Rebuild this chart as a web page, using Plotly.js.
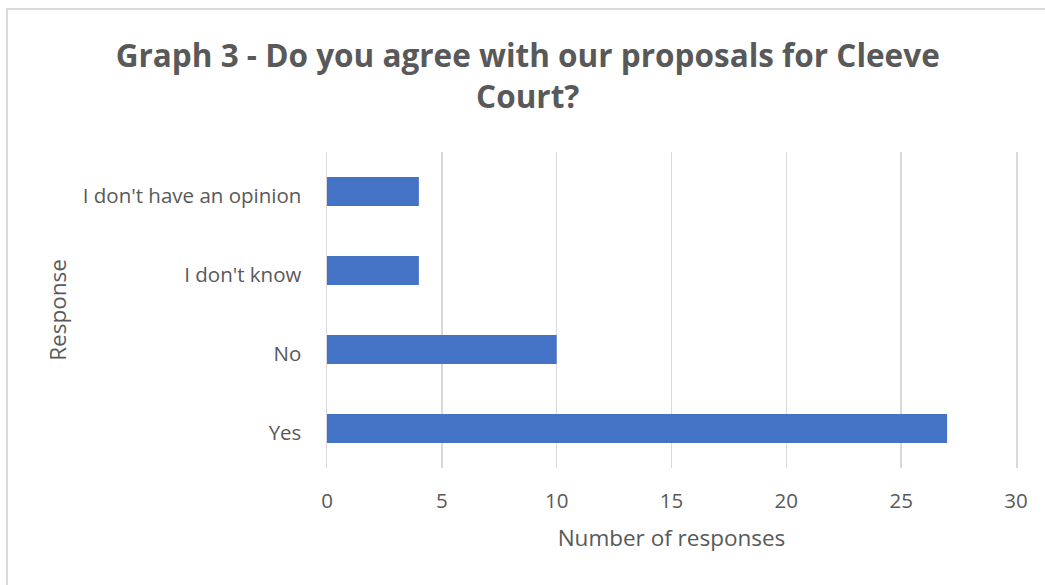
<!DOCTYPE html>
<html><head><meta charset="utf-8">
<script src="https://cdn.plot.ly/plotly-3.0.1.min.js"></script>
<style>
html,body{margin:0;padding:0;background:#fff;overflow:hidden}
#chart{position:absolute;left:0;top:0;width:1045px;height:585px}
#frame{position:absolute;left:6px;top:8px;width:1100px;height:700px;border:2px solid #d9d9d9;pointer-events:none;box-sizing:border-box}
</style></head>
<body>
<div id="chart"></div>
<div id="frame"></div>
<script>
const categories = ["Yes", "No", "I don't know", "I don't have an opinion"];
const responses = [27, 10, 4, 4];
const xTicks = [0, 5, 10, 15, 20, 25, 30];

const font = "'Open Sans', sans-serif";
const trace = {
  type: 'bar', orientation: 'h',
  x: responses, y: categories,
  marker: {color: '#4472C4'},
  width: 0.37,
  hoverinfo: 'x+y'
};
const layout = {
  width: 1045, height: 585,
  margin: {l: 327, r: 29, t: 152, b: 117},
  paper_bgcolor: '#fff', plot_bgcolor: '#fff',
  font: {family: font, color: '#595959'},
  title: {
    text: 'Graph 3 - Do you agree with our proposals for Cleeve<br>Court?',
    font: {family: font, size: 31.5, color: '#595959', weight: 'bold'},
    x: 0.505, xanchor: 'center', y: 0.886, yanchor: 'middle'
  },
  xaxis: {
    range: [0, 30], tickvals: xTicks, ticktext: xTicks.map(String),
    showgrid: true, gridcolor: '#d9d9d9', gridwidth: 1.5,
    zeroline: false, showline: false,
    tickfont: {size: 20.5, color: '#595959'},
    ticks: '', ticklabelstandoff: 18,
    title: {text: 'Number of responses', font: {size: 22.5, color: '#595959'}, standoff: 17},
    fixedrange: true
  },
  yaxis: {
    type: 'category', categoryorder: 'array', categoryarray: categories,
    showgrid: false, zeroline: false,
    showline: true, mirror: true, linecolor: '#d9d9d9', linewidth: 1.5,
    tickfont: {size: 20.5, color: '#595959'},
    ticks: '', ticklabelstandoff: 20, ticklabelshift: 4,
    title: {text: 'Response', font: {size: 22.5, color: '#595959'}, standoff: 10},
    fixedrange: true
  },
  showlegend: false
};
Plotly.newPlot('chart', [trace], layout, {displayModeBar: false, staticPlot: true});
</script>
</body></html>
